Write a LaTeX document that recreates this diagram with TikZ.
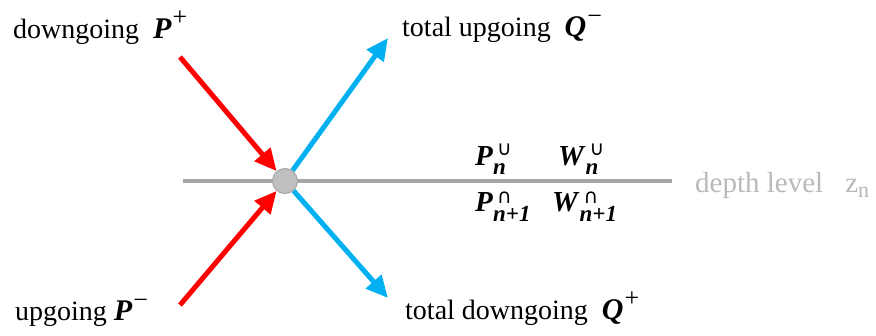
\documentclass[tikz,border=0pt]{standalone}
\usepackage{fontspec}
\setmainfont{Liberation Serif}
\newfontfamily\symfont{DejaVu Sans}
\usetikzlibrary{arrows.meta}
\definecolor{myred}{RGB}{255,0,0}
\definecolor{myblue}{RGB}{0,176,240}
\definecolor{linegray}{RGB}{166,166,166}
\definecolor{circgray}{RGB}{191,191,191}
\definecolor{textgray}{RGB}{185,185,185}
\newcommand{\bi}[1]{{\fontsize{30}{32}\selectfont\textbf{\textit{#1}}}}
\newcommand{\supr}[2]{\hspace{1pt}\raisebox{#2}{\fontsize{26}{26}\selectfont #1}}
\newcommand{\PW}[5]{{\fontsize{29}{32}\selectfont\textbf{\textit{#1}}}\rlap{\hspace{4pt}\raisebox{#4}{\fontsize{20}{20}\selectfont\symfont #2}}\raisebox{#5}{\fontsize{23}{23}\selectfont\textbf{\textit{#3}}}}
\begin{document}
\begin{tikzpicture}[x=1pt,y=-1pt,
  lab/.style={inner sep=0pt, font=\fontsize{28}{32}\selectfont},
  redarrow/.style={draw=myred, line width=5pt, -{Triangle[length=22pt,width=20pt]}},
  bluearrow/.style={draw=myblue, line width=5pt, -{Triangle[length=22pt,width=20pt]}},
  level/.style={draw=linegray, line width=4pt}]
\useasboundingbox (0,0) rectangle (876,335);
\coordinate (g1) at (183,181);
\coordinate (g2) at (672,181);
\coordinate (a1) at (180,57);
\coordinate (a2) at (180,305);
\coordinate (b1) at (388,38);
\coordinate (b2) at (388,298);
\draw[level] (g1) -- (g2);
\node[circle, minimum size=25pt, inner sep=0pt, fill=circgray, draw=linegray, line width=1pt] (c) at (285,181) {};
\draw[redarrow] (a1) -- (c);
\draw[redarrow] (a2) -- (c);
\draw[bluearrow] (c) -- (b1);
\draw[bluearrow] (c) -- (b2);
\node[lab, anchor=base west] (tdown) at (13,38) {downgoing\ \ \bi{P}\supr{+}{13pt}};
\node[lab, anchor=base west] (tup) at (402,36) {total upgoing\ \ \bi{Q}\supr{−}{11.5pt}};
\node[lab, anchor=base west] (bup) at (15,320) {upgoing \bi{P}\supr{−}{11.5pt}};
\node[lab, anchor=base west] (bdown) at (405,319) {total downgoing\ \ \bi{Q}\supr{+}{13pt}};
\node[lab, anchor=base west] (pn) at (475,165) {\PW{P}{∪}{n}{10pt}{-9pt}};
\node[lab, anchor=base west] (wn) at (558,165) {\PW{W}{∪}{n}{10pt}{-9pt}};
\node[lab, anchor=base west] (pn1) at (475,211) {\PW{P}{∩}{n+1}{8pt}{-10pt}};
\node[lab, anchor=base west] (wn1) at (552,211) {\PW{W}{∩}{n+1}{8pt}{-10pt}};
\node[lab, anchor=base west, text=textgray, font=\fontsize{29}{32}\selectfont] (depth) at (695,192) {depth level\hspace{22pt}z\raisebox{-5pt}{\fontsize{22}{22}\selectfont n}};
\end{tikzpicture}
\end{document}
